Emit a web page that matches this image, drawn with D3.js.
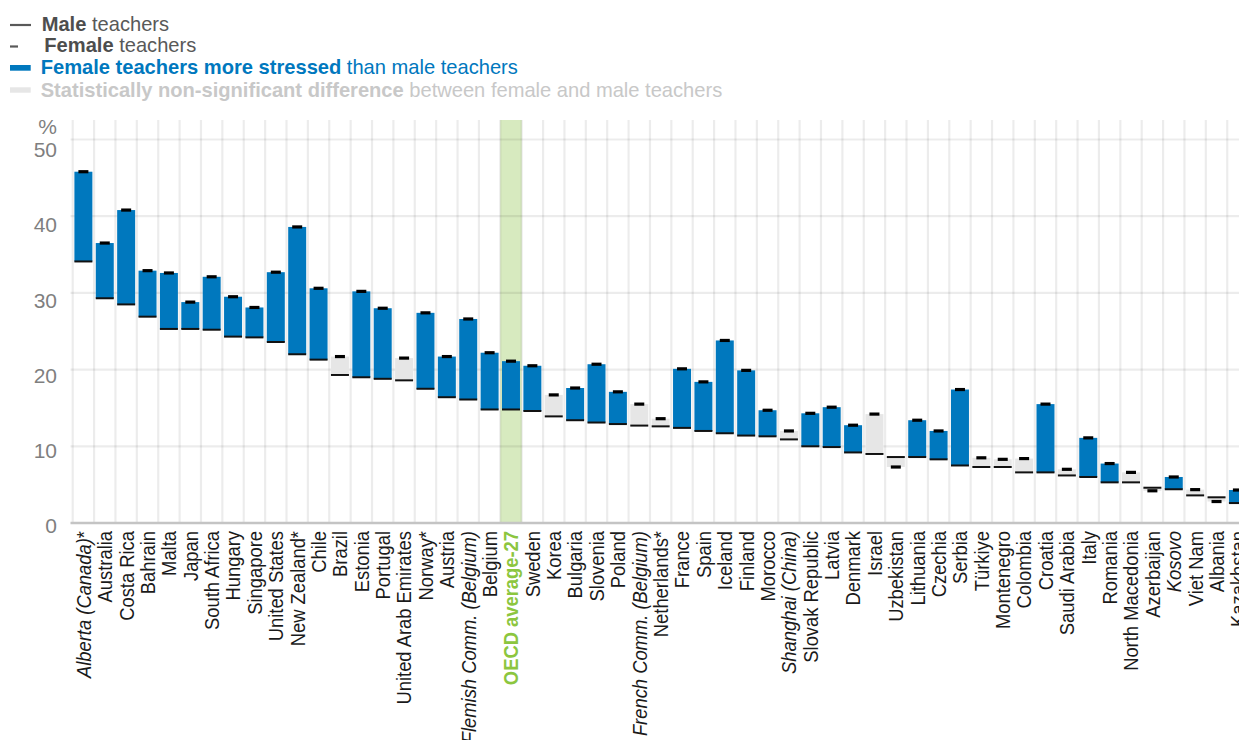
<!DOCTYPE html>
<html>
<head>
<meta charset="utf-8">
<script src="https://cdn.jsdelivr.net/npm/d3@7"></script>
<style>
  html, body { margin: 0; padding: 0; background: #fff; overflow: hidden; }
  svg { display: block; }
  text { font-family: "Liberation Sans Narrow", "Arial Narrow", "Liberation Sans", Arial, sans-serif; }
</style>
</head>
<body>
<svg id="chart" width="1239" height="740"></svg>
<script>
// ---- DATA ----
const categories = [
  "Alberta (Canada)*", "Australia", "Costa Rica", "Bahrain", "Malta", "Japan", "South Africa",
  "Hungary", "Singapore", "United States", "New Zealand*", "Chile", "Brazil", "Estonia",
  "Portugal", "United Arab Emirates", "Norway*", "Austria", "Flemish Comm. (Belgium)", "Belgium",
  "OECD average-27", "Sweden", "Korea", "Bulgaria", "Slovenia", "Poland", "French Comm. (Belgium)",
  "Netherlands*", "France", "Spain", "Iceland", "Finland", "Morocco", "Shanghai (China)",
  "Slovak Republic", "Latvia", "Denmark", "Israel", "Uzbekistan", "Lithuania", "Czechia",
  "Serbia", "Türkiye", "Montenegro", "Colombia", "Croatia", "Saudi Arabia", "Italy", "Romania",
  "North Macedonia", "Azerbaijan", "Kosovo", "Viet Nam", "Albania", "Kazakhstan"
];
const maleValues = [
  34.1, 29.3, 28.5, 26.9, 25.3, 25.3, 25.2, 24.3, 24.2, 23.6, 22.0, 21.3, 19.3, 19.0,
  18.8, 18.6, 17.5, 16.4, 16.1, 14.8, 14.8, 14.6, 13.9, 13.4, 13.1, 12.9, 12.7,
  12.6, 12.4, 12.0, 11.7, 11.4, 11.3, 10.9, 10.0, 9.9, 9.2, 9.0, 8.6, 8.6, 8.3,
  7.5, 7.3, 7.3, 6.6, 6.6, 6.2, 6.0, 5.3, 5.3, 4.6, 4.4, 3.6, 3.35, 2.6
];
const femaleValues = [
  45.8, 36.5, 40.8, 32.9, 32.6, 28.8, 32.1, 29.5, 28.1, 32.7, 38.6, 30.6, 21.7, 30.2,
  28.0, 21.5, 27.4, 21.7, 26.6, 22.2, 21.1, 20.5, 16.7, 17.6, 20.7, 17.1, 15.5,
  13.6, 20.1, 18.4, 23.8, 19.9, 14.7, 12.0, 14.3, 15.1, 12.75, 14.2, 7.3, 13.4, 12.0,
  17.4, 8.5, 8.3, 8.4, 15.5, 7.0, 11.1, 7.75, 6.6, 4.2, 6.0, 4.35, 2.8, 4.3
];
// 1 = female teachers significantly more stressed, 0 = non-significant difference
const significant = [
  1,1,1,1,1,1,1,1,1,1,1,1,0,1,
  1,0,1,1,1,1,1,1,0,1,1,1,0,
  0,1,1,1,1,1,0,1,1,1,0,0,1,1,
  1,0,0,0,1,0,1,1,0,0,1,0,0,1
];
const italicCategories = ["Alberta (Canada)*", "Flemish Comm. (Belgium)", "French Comm. (Belgium)", "Shanghai (China)", "Kosovo"];
const averageCategory = "OECD average-27";
const yTicks = [0, 10, 20, 30, 40, 50];
const legendItems = [
  { bold: "Male", rest: " teachers" },
  { bold: "Female", rest: " teachers" },
  { bold: "Female teachers more stressed", rest: " than male teachers" },
  { bold: "Statistically non-significant difference", rest: " between female and male teachers" }
];

// ---- LAYOUT ----
const BLUE = "#0078be", GREYBAR = "#e6e6e6", GREEN_BG = "#d7eabf", GREEN_TXT = "#8cc63f";
const svg = d3.select("#chart");
const plotLeft = 72.7, step = 21.38, plotTop = 120, plotBottom = 523;
const plotRight = plotLeft + step * categories.length;

const x = d3.scaleBand().domain(categories).range([plotLeft, plotRight]).padding(0);
const y = d3.scaleLinear().domain([0, 50]).range([plotBottom, 139.5]);
const yLab = d3.scaleLinear().domain([0, 50]).range([525.5, 150]);

const data = categories.map((c, i) => ({
  c, m: maleValues[i], f: femaleValues[i], sig: significant[i] === 1
}));

// highlight band for average
svg.append("rect")
  .attr("x", x(averageCategory)).attr("width", x.bandwidth())
  .attr("y", plotTop).attr("height", plotBottom - plotTop)
  .attr("fill", GREEN_BG);

// gridlines
const grid = svg.append("g").attr("stroke", "rgba(0,0,0,0.075)").attr("stroke-width", 2.2);
grid.selectAll("line.h").data(yTicks.filter(d => d > 0)).join("line")
  .attr("x1", 70.5).attr("x2", plotRight).attr("y1", d => y(d)).attr("y2", d => y(d));
const boundaries = categories.map(c => x(c));
grid.selectAll("line.v").data(boundaries).join("line")
  .attr("x1", d => d).attr("x2", d => d).attr("y1", plotTop).attr("y2", plotBottom);

// y tick labels
svg.append("g").selectAll("text").data(yTicks).join("text")
  .attr("x", 57).attr("y", d => yLab(d)).attr("dy", "0.35em")
  .attr("text-anchor", "end").attr("fill", "#7f7f7f").attr("font-size", 21)
  .text(d => d);
svg.append("text").attr("x", 57).attr("y", 134).attr("text-anchor", "end")
  .attr("fill", "#7f7f7f").attr("font-size", 21).text("%");

// bars
const inset = 1.7;
const bars = svg.append("g");
bars.selectAll("rect").data(data).join("rect")
  .attr("x", d => x(d.c) + inset).attr("width", x.bandwidth() - 2 * inset)
  .attr("y", d => y(Math.max(d.m, d.f)))
  .attr("height", d => Math.abs(y(d.m) - y(d.f)))
  .attr("fill", d => d.sig ? BLUE : GREYBAR);

// axis line
svg.append("line").attr("x1", 70.5).attr("x2", plotRight).attr("y1", plotBottom).attr("y2", plotBottom)
  .attr("stroke", "#c4c4c4").attr("stroke-width", 2.5);

// male lines
svg.append("g").selectAll("line").data(data).join("line")
  .attr("x1", d => x(d.c) + inset).attr("x2", d => x(d.c) + x.bandwidth() - inset)
  .attr("y1", d => y(d.m)).attr("y2", d => y(d.m))
  .attr("stroke", "#111").attr("stroke-width", 2);

// female markers
svg.append("g").selectAll("line").data(data).join("line")
  .attr("x1", d => x(d.c) + x.bandwidth() / 2 - 5).attr("x2", d => x(d.c) + x.bandwidth() / 2 + 5)
  .attr("y1", d => y(d.f)).attr("y2", d => y(d.f))
  .attr("stroke", "#000").attr("stroke-width", 3.2);

// x labels (condensed along text direction to mimic a narrow face)
svg.append("g").selectAll("text").data(categories).join("text")
  .attr("transform", c => `translate(${x(c) + x.bandwidth() / 2},531) rotate(-90) scale(0.875,1)`)
  .attr("dy", "0.35em").attr("text-anchor", "end").attr("font-size", 21)
  .attr("fill", c => c === averageCategory ? GREEN_TXT : "#1a1a1a")
  .attr("font-weight", c => c === averageCategory ? "bold" : "normal")
  .each(function(c) {
    const t = d3.select(this);
    if (italicCategories.includes(c)) {
      const star = c.endsWith("*");
      t.append("tspan").attr("font-style", "italic").text(star ? c.slice(0, -1) : c);
      if (star) t.append("tspan").text("*");
    } else {
      t.text(c);
    }
  });

// legend
const legendBase = [30.7, 52.3, 74, 96.7];
const legendTextX = [41.7, 44.3, 40.7, 40.7];
const legendColors = [["#4d4d4d", "#595959"], ["#4d4d4d", "#595959"], [BLUE, BLUE], ["#c8c8c8", "#c8c8c8"]];
const lg = svg.append("g");
lg.selectAll("text").data(legendItems).join("text")
  .attr("transform", (d, i) => `translate(${legendTextX[i]},${legendBase[i]}) scale(0.958,1)`)
  .attr("font-size", 21)
  .each(function(d, i) {
    const t = d3.select(this);
    t.append("tspan").attr("font-weight", "bold").attr("fill", legendColors[i][0]).text(d.bold);
    t.append("tspan").attr("fill", legendColors[i][1]).text(d.rest);
  });
lg.append("line").attr("x1", 10).attr("x2", 31).attr("y1", 25).attr("y2", 25)
  .attr("stroke", "#595959").attr("stroke-width", 2.2);
lg.append("line").attr("x1", 10).attr("x2", 18).attr("y1", 46.5).attr("y2", 46.5)
  .attr("stroke", "#595959").attr("stroke-width", 2.2);
lg.append("rect").attr("x", 10).attr("y", 65).attr("width", 20.7).attr("height", 5.7).attr("fill", BLUE);
lg.append("rect").attr("x", 10).attr("y", 87.3).attr("width", 20.7).attr("height", 5.4).attr("fill", GREYBAR);
</script>
</body>
</html>
